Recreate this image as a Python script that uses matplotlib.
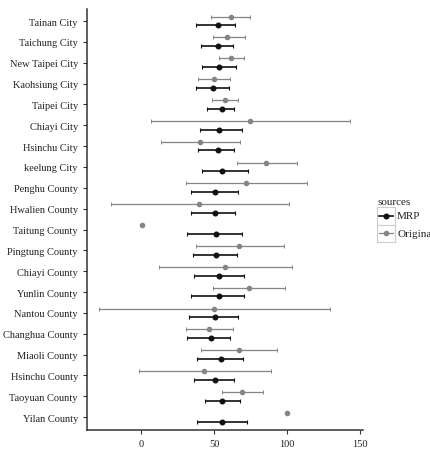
"""MRP vs original estimates by county."""

import matplotlib

matplotlib.use("Agg")
import matplotlib.pyplot as plt
from matplotlib.lines import Line2D
from matplotlib.patches import Rectangle

plt.rcParams["font.family"] = ["Liberation Serif", "DejaVu Serif"]

# bottom to top
counties = [
    "Yilan County", "Taoyuan County", "Hsinchu County", "Miaoli County",
    "Changhua County", "Nantou County", "Yunlin County", "Chiayi County",
    "Pingtung County", "Taitung County", "Hwalien County", "Penghu County",
    "keelung City", "Hsinchu City", "Chiayi City", "Taipei City",
    "Kaohsiung City", "New Taipei City", "Taichung City", "Tainan City",
]

mrp_est = [55.3, 55.3, 50.5, 54.6, 47.7, 50.7, 53.6, 53.4, 51.1, 51.1,
           50.7, 50.7, 55.3, 52.5, 53.6, 55.3, 49.1, 53.7, 52.5, 52.5]
mrp_lo = [38.4, 44.1, 36.5, 38.4, 31.7, 33.1, 34.2, 36.5, 35.8, 31.7,
          34.2, 34.2, 42.0, 39.0, 40.4, 45.4, 37.9, 42.0, 41.1, 37.7]
mrp_hi = [72.6, 68.0, 63.7, 70.1, 61.2, 66.2, 70.5, 70.3, 65.5, 69.4,
          64.4, 66.2, 73.5, 63.5, 69.4, 63.9, 60.0, 64.8, 63.2, 64.6]

# None = only a point, no interval
orig_est = [100.0, 69.0, 43.2, 66.9, 46.4, 49.8, 73.7, 57.5, 66.9, 0.5,
            40.0, 71.7, 85.6, 40.2, 74.9, 57.5, 49.8, 61.9, 59.1, 61.4]
orig_lo = [None, 55.7, -1.6, 41.1, 31.0, -28.3, 49.5, 12.3, 37.4, None,
           -20.1, 30.6, 65.5, 13.5, 6.8, 48.6, 39.3, 53.4, 49.1, 47.9]
orig_hi = [None, 83.8, 89.0, 92.9, 62.8, 129.5, 98.2, 103.2, 97.5, None,
           101.2, 113.5, 106.6, 67.8, 143.0, 66.7, 61.0, 70.5, 71.2, 74.7]

MRP_COLOR = "#111111"
ORIG_COLOR = "#858585"
DODGE = 0.21

fig = plt.figure(figsize=(4.3, 4.52), dpi=100)
ax = fig.add_axes([87 / 430, 21.3 / 452, 275.7 / 430, 421.2 / 452])

for i in range(len(counties)):
    y = i + DODGE
    if orig_lo[i] is not None:
        ax.errorbar(orig_est[i], y,
                    xerr=[[orig_est[i] - orig_lo[i]], [orig_hi[i] - orig_est[i]]],
                    fmt="o", color=ORIG_COLOR, ms=3, lw=0.9, capsize=1.5,
                    capthick=0.7)
    else:
        ax.plot(orig_est[i], y, "o", color=ORIG_COLOR, ms=3)
    y = i - DODGE
    ax.errorbar(mrp_est[i], y,
                xerr=[[mrp_est[i] - mrp_lo[i]], [mrp_hi[i] - mrp_est[i]]],
                fmt="o", color=MRP_COLOR, ms=3.3, lw=1.2, capsize=1.5,
                capthick=0.8)

ax.set_xlim(-36.8, 151.6)
ax.set_ylim(-0.6, len(counties) - 0.4)
ax.set_xticks([0, 50, 100, 150])
ax.set_yticks(range(len(counties)), labels=counties)
ax.tick_params(labelsize=7.5, colors="#333333", length=3, labelcolor="#222222")
for side in ("top", "right"):
    ax.spines[side].set_visible(False)
for side in ("left", "bottom"):
    ax.spines[side].set_color("#333333")
    ax.spines[side].set_linewidth(1.1)

# legend, ggplot style keys
fig.text(377 / 430, 1 - 203 / 452, "sources", fontsize=8, va="center",
         color="#222222")
for k, (lab, col, ms, lw) in enumerate([("MRP", MRP_COLOR, 3.3, 1.2),
                                        ("Original", ORIG_COLOR, 3, 0.9)]):
    top = 208 + k * 17.5
    fig.add_artist(Rectangle((377 / 430, 1 - (top + 17.5) / 452), 18 / 430,
                             17.5 / 452, transform=fig.transFigure,
                             facecolor="white", edgecolor="#cccccc", lw=0.8))
    yc = 1 - (top + 8.75) / 452
    fig.add_artist(Line2D([379 / 430, 393 / 430], [yc, yc], color=col, lw=lw,
                          transform=fig.transFigure))
    fig.add_artist(Line2D([386 / 430], [yc], marker="o", ms=ms, color=col,
                          transform=fig.transFigure))
    fig.text(397 / 430, yc, lab, fontsize=8, va="center", color="#222222")

fig.savefig("out.png", dpi=100)
